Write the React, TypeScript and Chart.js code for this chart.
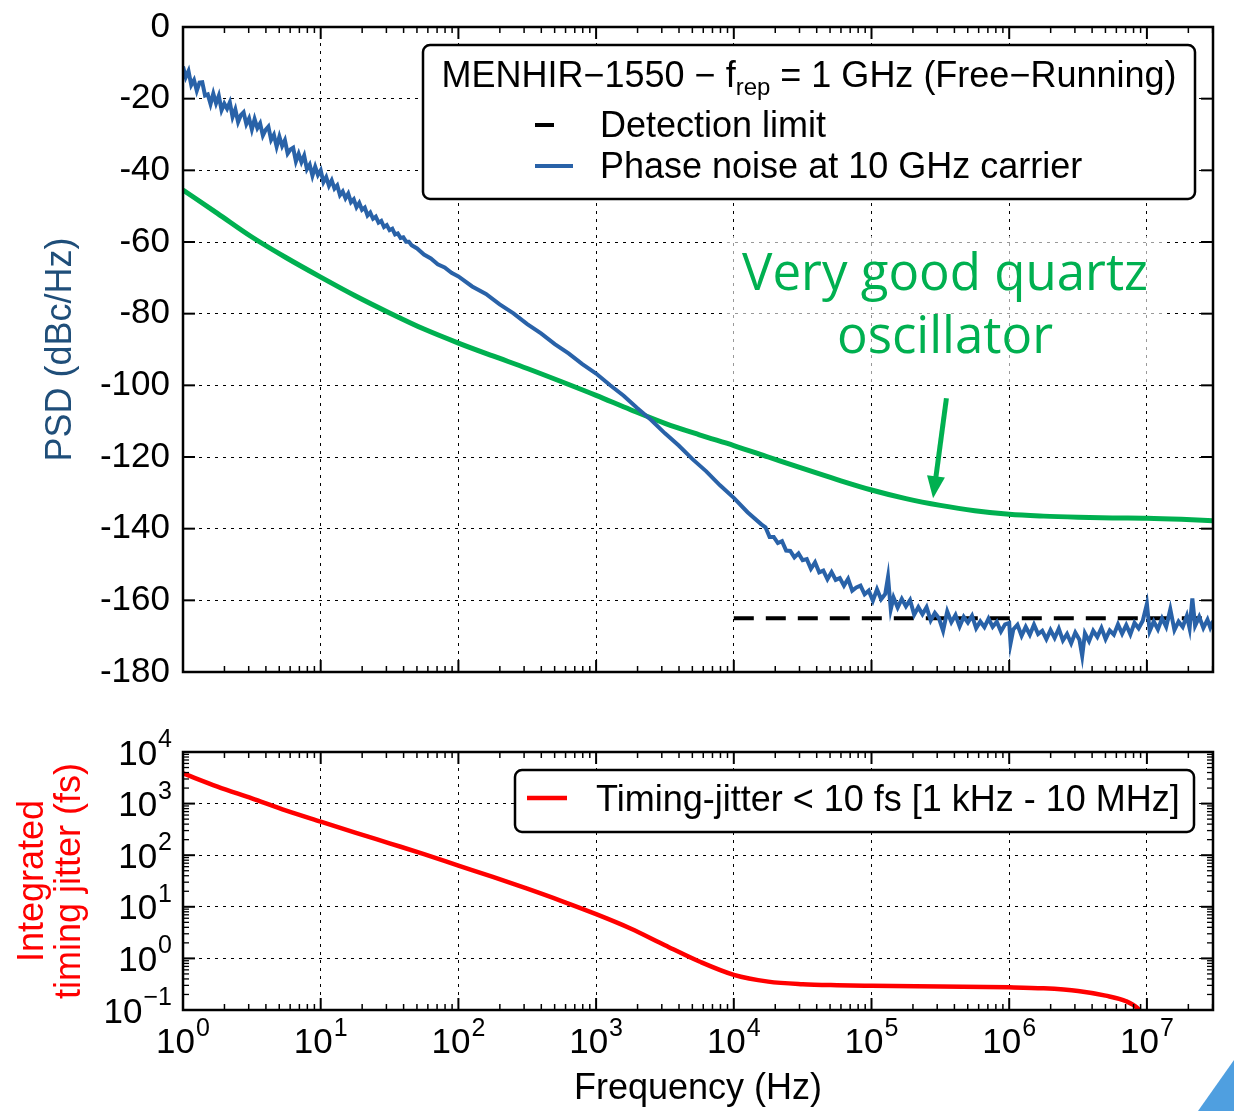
import React, { useEffect, useRef } from 'react';
import { Chart, registerables } from 'chart.js';

Chart.register(...registerables);

const FAMILY = '"Liberation Sans", Arial, Helvetica, sans-serif';
const fnt = (size: number) => `${size}px ${FAMILY}`;

// ---------------- data ----------------
// Phase noise at 10 GHz carrier: log10(frequency / Hz) and PSD (dBc/Hz)
const phaseNoiseLog10Hz = [
  0.00, 0.02, 0.04, 0.06, 0.08, 0.10, 0.12, 0.14, 0.16, 0.18, 0.20, 0.22, 0.24, 0.26, 0.28, 0.30,
  0.32, 0.34, 0.36, 0.38, 0.40, 0.42, 0.44, 0.46, 0.48, 0.50, 0.52, 0.54, 0.56, 0.58, 0.60, 0.62,
  0.64, 0.66, 0.68, 0.70, 0.72, 0.74, 0.76, 0.78, 0.80, 0.82, 0.84, 0.86, 0.88, 0.90, 0.92, 0.94,
  0.96, 0.98, 1.00, 1.02, 1.04, 1.06, 1.08, 1.10, 1.12, 1.14, 1.16, 1.18, 1.20, 1.22, 1.24, 1.26,
  1.28, 1.30, 1.32, 1.34, 1.36, 1.38, 1.40, 1.42, 1.44, 1.46, 1.48, 1.50, 1.52, 1.54, 1.56, 1.58,
  1.60, 1.62, 1.64, 1.66,
  1.70, 1.75, 1.80, 1.85, 1.90, 1.95, 2.00, 2.10, 2.20, 2.30, 2.40, 2.50, 2.60, 2.70, 2.80, 2.90,
  3.00, 3.10, 3.20, 3.30, 3.40, 3.50, 3.60, 3.70, 3.80, 3.90, 4.00, 4.10, 4.20,
  4.23, 4.26, 4.29, 4.32, 4.35, 4.38, 4.41, 4.44, 4.47, 4.50, 4.53, 4.56, 4.59, 4.62, 4.65, 4.68,
  4.71, 4.74, 4.77, 4.80, 4.83, 4.86, 4.89, 4.92, 4.95, 4.98, 5.01, 5.04, 5.07, 5.10, 5.12, 5.14,
  5.16, 5.19, 5.22, 5.25, 5.28, 5.31, 5.34, 5.37, 5.40, 5.43, 5.46, 5.49, 5.52, 5.55, 5.58, 5.61,
  5.64, 5.67, 5.70, 5.73, 5.76, 5.79, 5.82, 5.85, 5.88, 5.91, 5.94, 5.97, 6.00, 6.01, 6.03, 6.06,
  6.09, 6.12, 6.15, 6.18, 6.21, 6.24, 6.27, 6.30, 6.33, 6.36, 6.39, 6.42, 6.45, 6.48, 6.51, 6.53,
  6.55, 6.58, 6.61, 6.64, 6.67, 6.70, 6.73, 6.76, 6.79, 6.82, 6.85, 6.88, 6.91, 6.94, 6.97, 7.00,
  7.02, 7.05, 7.08, 7.11, 7.14, 7.17, 7.20, 7.23, 7.26, 7.29, 7.31, 7.33, 7.35, 7.38, 7.41, 7.44,
  7.46, 7.48,
];
const phaseNoiseDb = [
  -11.0, -14.0, -12.3, -16.2, -14.8, -17.8, -15.5, -15.4, -19.1, -18.8, -21.5, -18.6, -21.3, -19.2, -23.2, -21.4,
  -22.8, -21.0, -25.1, -23.0, -26.5, -24.6, -23.8, -27.1, -25.5, -28.6, -25.7, -28.2, -26.9, -30.3, -28.7, -27.8,
  -31.5, -30.1, -33.4, -30.6, -33.2, -31.6, -35.3, -34.2, -33.7, -37.5, -35.4, -37.7, -35.9, -39.7, -38.4, -41.5,
  -39.0, -41.3, -40.0, -43.3, -41.9, -44.3, -42.8, -45.1, -44.2, -46.9, -45.9, -47.8, -46.5, -48.9, -48.1, -50.3,
  -49.1, -51.0, -50.4, -52.6, -51.8, -53.5, -52.9, -54.6, -54.1, -55.8, -55.3, -56.7, -56.3, -57.9, -57.6, -58.9,
  -58.7, -59.9, -59.9, -60.9,
  -61.8, -63.5, -64.6, -66.2, -67.1, -68.6, -69.6, -72.4, -74.5, -77.4, -79.9, -82.9, -85.5, -88.5, -91.1, -94.1,
  -96.7, -99.9, -102.9, -106.4, -109.7, -113.4, -116.8, -120.6, -124.0, -127.9, -131.4, -135.4, -138.8,
  -139.6, -142.3, -142.3, -144.0, -143.5, -146.1, -146.2, -148.0, -146.9, -148.8, -148.5, -151.2, -149.4, -152.2, -151.7, -154.1,
  -152.1, -154.3, -153.8, -155.9, -154.0, -157.3, -156.4, -155.9, -158.3, -157.3, -160.1, -156.9, -159.7, -158.2, -153.5, -162.5,
  -159.2, -162.0, -159.6, -161.7, -159.9, -164.0, -161.9, -163.9, -161.9, -165.6, -163.5, -165.0, -168.5, -163.1, -166.1, -164.1,
  -167.3, -164.6, -166.2, -164.3, -167.8, -165.9, -167.5, -165.1, -167.4, -166.0, -168.7, -166.7, -166.3, -172.0, -168.1, -166.8,
  -169.9, -167.4, -169.6, -166.8, -169.4, -168.5, -170.8, -168.3, -170.5, -167.9, -171.2, -169.4, -172.0, -169.0, -171.0, -175.5,
  -169.2, -171.4, -168.5, -170.2, -167.7, -170.8, -168.4, -169.6, -166.7, -169.3, -166.9, -169.5, -166.3, -167.8, -165.7, -161.0,
  -168.6, -165.9, -168.1, -165.0, -167.4, -162.5, -168.3, -165.9, -167.4, -164.3, -167.8, -159.5, -167.1, -164.6, -167.7, -165.4,
  -167.6, -165.8,
];

// Very good quartz oscillator
const quartzLog10Hz = [0, 0.25, 0.5, 0.75, 1.0, 1.25, 1.5, 1.75, 2.0, 2.25, 2.5, 2.75, 3.0, 3.25, 3.5, 3.75,
  4.0, 4.25, 4.5, 4.75, 5.0, 5.25, 5.5, 5.75, 6.0, 6.25, 6.5, 6.75, 7.0, 7.25, 7.48];
const quartzDb = [-45.5, -52.0, -58.6, -64.4, -69.8, -75.0, -79.8, -84.3, -88.2, -91.8, -95.3, -99.0, -102.8,
  -106.8, -110.6, -113.8, -116.8, -120.0, -123.2, -126.3, -129.2, -131.6, -133.5, -135.0, -136.0, -136.5,
  -136.8, -137.0, -137.1, -137.4, -137.8];

// Detection limit
const detectionLimitHz = [1e4, 3.02e7];
const detectionLimitDb = [-165, -165];

// Integrated timing jitter (fs)
const jitterLog10Hz = [0, 0.25, 0.5, 0.75, 1.0, 1.25, 1.5, 1.75, 2.0, 2.25, 2.5, 2.75, 3.0, 3.25, 3.5, 3.75,
  4.0, 4.25, 4.5, 4.75, 5.0, 5.5, 6.0, 6.25, 6.5, 6.7, 6.85, 6.93, 6.97];
const jitterFs = [3860, 2140, 1260, 730, 447, 275, 170, 105, 63, 38, 22.4, 12.9, 7.2, 3.8, 1.8, 0.87,
  0.48, 0.355, 0.316, 0.302, 0.295, 0.285, 0.275, 0.263, 0.234, 0.19, 0.148, 0.11, 0.08];

// ticks
const freqDecadeTicks = [1, 10, 100, 1e3, 1e4, 1e5, 1e6, 1e7];
const freqDecadeExponents = ['0', '1', '2', '3', '4', '5', '6', '7'];
const psdTicks = [0, -20, -40, -60, -80, -100, -120, -140, -160, -180];
const jitterDecadeTicks = [0.1, 1, 10, 100, 1000, 10000];
const jitterDecadeExponents = ['\u22121', '0', '1', '2', '3', '4'];

const FREQ_MIN = 1;
const FREQ_MAX = 3.02e7;

// texts
const legendTitleMain = 'MENHIR\u22121550 \u2212 f';
const legendTitleSub = 'rep';
const legendTitleTail = ' = 1 GHz (Free\u2212Running)';
const detectionLabel = 'Detection limit';
const phaseNoiseLabel = 'Phase noise at 10 GHz carrier';
const jitterLabel = 'Timing-jitter < 10 fs [1 kHz - 10 MHz]';
const quartzNoteLines = ['Very good quartz', 'oscillator'];
const quartzArrowFrom = { x: 3.5e5, y: -103.6 };
const quartzArrowTo = { x: 2.8e5, y: -131.5 };

const BLUE = '#2962a8';
const GREEN = '#00b050';
const RED = '#ff0000';
const PSD_TITLE = '#1f4e79';

function minorValues(min: number, max: number) {
  const out: number[] = [];
  for (let k = -2; k <= 8; k++) {
    for (let m = 2; m <= 9; m++) {
      const v = m * Math.pow(10, k);
      if (v > min && v < max) out.push(v);
    }
  }
  return out;
}

function drawFrame(chart: any, yMajor: number[], yMinor: number[]) {
  const { ctx, chartArea: a, scales } = chart;
  const xs = scales.x;
  const ys = scales.y;
  ctx.save();
  ctx.strokeStyle = '#000';
  ctx.setLineDash([]);
  const seg = (x1: number, y1: number, x2: number, y2: number, w: number) => {
    ctx.lineWidth = w;
    ctx.beginPath();
    ctx.moveTo(x1, y1);
    ctx.lineTo(x2, y2);
    ctx.stroke();
  };
  for (const v of freqDecadeTicks) {
    const px = xs.getPixelForValue(v);
    seg(px, a.bottom, px, a.bottom - 12, 2);
    seg(px, a.top, px, a.top + 12, 2);
  }
  for (const v of minorValues(FREQ_MIN, FREQ_MAX)) {
    const px = xs.getPixelForValue(v);
    seg(px, a.bottom, px, a.bottom - 6, 1.5);
    seg(px, a.top, px, a.top + 6, 1.5);
  }
  for (const v of yMajor) {
    const py = ys.getPixelForValue(v);
    seg(a.left, py, a.left + 12, py, 2);
    seg(a.right, py, a.right - 12, py, 2);
  }
  for (const v of yMinor) {
    const py = ys.getPixelForValue(v);
    seg(a.left, py, a.left + 6, py, 1.3);
    seg(a.right, py, a.right - 6, py, 1.3);
  }
  ctx.lineWidth = 2.5;
  ctx.strokeRect(a.left, a.top, a.right - a.left, a.bottom - a.top);
  ctx.restore();
}

function legendBox(ctx: CanvasRenderingContext2D, x: number, y: number, w: number, h: number) {
  ctx.save();
  ctx.beginPath();
  (ctx as any).roundRect(x, y, w, h, 7);
  ctx.fillStyle = '#fff';
  ctx.fill();
  ctx.lineWidth = 2.5;
  ctx.strokeStyle = '#000';
  ctx.setLineDash([]);
  ctx.stroke();
  ctx.restore();
}

function handle(ctx: CanvasRenderingContext2D, x1: number, x2: number, y: number, color: string, w: number) {
  ctx.save();
  ctx.strokeStyle = color;
  ctx.lineWidth = w;
  ctx.setLineDash([]);
  ctx.beginPath();
  ctx.moveTo(x1, y);
  ctx.lineTo(x2, y);
  ctx.stroke();
  ctx.restore();
}

const topPlugin = {
  id: 'topDecor',
  beforeDatasetsDraw(chart: any) {
    const { ctx } = chart;
    ctx.save();
    ctx.fillStyle = 'rgba(255,255,255,0.6)';
    ctx.fillRect(724, 236, 442, 146);
    ctx.restore();
  },
  afterDatasetsDraw(chart: any) {
    const { ctx, scales } = chart;
    drawFrame(chart, psdTicks, []);

    // annotation text
    ctx.save();
    ctx.fillStyle = GREEN;
    ctx.font = '51px "Open Sans", "Noto Sans", sans-serif';
    ctx.textAlign = 'center';
    ctx.textBaseline = 'alphabetic';
    ctx.fillText(quartzNoteLines[0], 945, 290);
    ctx.fillText(quartzNoteLines[1], 945, 353);

    // arrow
    const fx = scales.x.getPixelForValue(quartzArrowFrom.x);
    const fy = scales.y.getPixelForValue(quartzArrowFrom.y);
    const tx = scales.x.getPixelForValue(quartzArrowTo.x);
    const ty = scales.y.getPixelForValue(quartzArrowTo.y);
    const len = Math.hypot(tx - fx, ty - fy);
    const dx = (tx - fx) / len;
    const dy = (ty - fy) / len;
    const headLen = 22;
    const half = 9;
    const bx = tx - dx * headLen;
    const by = ty - dy * headLen;
    ctx.strokeStyle = GREEN;
    ctx.lineWidth = 5;
    ctx.beginPath();
    ctx.moveTo(fx, fy);
    ctx.lineTo(bx + dx * 2, by + dy * 2);
    ctx.stroke();
    ctx.beginPath();
    ctx.moveTo(tx, ty);
    ctx.lineTo(bx - dy * half, by + dx * half);
    ctx.lineTo(bx + dy * half, by - dx * half);
    ctx.closePath();
    ctx.fill();
    ctx.restore();

    // legend
    legendBox(ctx, 423, 45, 772, 154);
    ctx.save();
    ctx.fillStyle = '#000';
    ctx.textBaseline = 'alphabetic';
    ctx.textAlign = 'left';
    ctx.font = fnt(36);
    const w1 = ctx.measureText(legendTitleMain).width;
    const w3 = ctx.measureText(legendTitleTail).width;
    ctx.font = fnt(24);
    const w2 = ctx.measureText(legendTitleSub).width;
    const start = 809 - (w1 + w2 + w3) / 2;
    ctx.font = fnt(36);
    ctx.fillText(legendTitleMain, start, 87);
    ctx.fillText(legendTitleTail, start + w1 + w2, 87);
    ctx.font = fnt(24);
    ctx.fillText(legendTitleSub, start + w1, 95);
    ctx.restore();
    handle(ctx, 535, 554, 125, '#000', 4);
    handle(ctx, 535, 573, 166, BLUE, 4);
    ctx.save();
    ctx.fillStyle = '#000';
    ctx.font = fnt(36);
    ctx.textAlign = 'left';
    ctx.textBaseline = 'alphabetic';
    ctx.fillText(detectionLabel, 600, 137);
    ctx.fillText(phaseNoiseLabel, 600, 178);
    ctx.restore();
  },
};

function drawPow10(ctx: CanvasRenderingContext2D, x: number, baseline: number, exp: string, align: 'center' | 'right') {
  ctx.font = fnt(35);
  const wb = ctx.measureText('10').width;
  ctx.font = fnt(25);
  const we = ctx.measureText(exp).width;
  const total = wb + we + 1;
  const start = align === 'center' ? x - total / 2 : x - total;
  ctx.textAlign = 'left';
  ctx.textBaseline = 'alphabetic';
  ctx.font = fnt(35);
  ctx.fillText('10', start, baseline);
  ctx.font = fnt(25);
  ctx.fillText(exp, start + wb + 1, baseline - 17.5);
}

const bottomPlugin = {
  id: 'bottomDecor',
  afterDatasetsDraw(chart: any) {
    const { ctx, scales, chartArea } = chart;
    drawFrame(chart, jitterDecadeTicks, minorValues(0.1, 1e4));
    ctx.save();
    ctx.fillStyle = '#000';
    freqDecadeTicks.forEach((v, i) => {
      const px = scales.x.getPixelForValue(v);
      drawPow10(ctx, px, chartArea.bottom + 43, freqDecadeExponents[i], 'center');
    });
    jitterDecadeTicks.forEach((v, i) => {
      const py = scales.y.getPixelForValue(v);
      drawPow10(ctx, 172, py + 12.5, jitterDecadeExponents[i], 'right');
    });
    ctx.restore();

    legendBox(ctx, 515, 70, 679, 62);
    handle(ctx, 527, 567, 98, RED, 4.5);
    ctx.save();
    ctx.fillStyle = '#000';
    ctx.font = fnt(36);
    ctx.textAlign = 'left';
    ctx.textBaseline = 'alphabetic';
    ctx.fillText(jitterLabel, 596, 111);
    ctx.restore();
  },
};

const gridCommon = { color: '#000', lineWidth: 1, drawTicks: false };
const borderCommon = { display: false, dash: [3, 5] };

const fitY = (s: any) => { s.width = 183; s.paddingTop = 0; s.paddingBottom = 0; };
const fitX = (h: number) => (s: any) => { s.height = h; s.paddingLeft = 0; s.paddingRight = 0; };

export default function App() {
  const topRef = useRef<HTMLCanvasElement>(null);
  const botRef = useRef<HTMLCanvasElement>(null);

  useEffect(() => {
    const top = new Chart(topRef.current as HTMLCanvasElement, {
      type: 'line',
      data: {
        datasets: [
          {
            label: phaseNoiseLabel,
            data: phaseNoiseLog10Hz.map((e, i) => ({ x: Math.pow(10, e), y: phaseNoiseDb[i] })),
            borderColor: BLUE,
            borderWidth: 4,
            pointRadius: 0,
            tension: 0,
          },
          {
            label: 'Very good quartz oscillator',
            data: quartzLog10Hz.map((e, i) => ({ x: Math.pow(10, e), y: quartzDb[i] })),
            borderColor: GREEN,
            borderWidth: 5,
            pointRadius: 0,
            cubicInterpolationMode: 'monotone',
          },
          {
            label: detectionLabel,
            data: detectionLimitHz.map((f, i) => ({ x: f, y: detectionLimitDb[i] })),
            borderColor: '#000',
            borderWidth: 4,
            borderDash: [20, 12],
            pointRadius: 0,
          },
        ],
      },
      options: {
        responsive: false,
        animation: false,
        layout: { padding: { top: 27, right: 21, left: 0, bottom: 0 } },
        plugins: { legend: { display: false }, tooltip: { enabled: false } },
        scales: {
          x: {
            type: 'logarithmic',
            min: FREQ_MIN,
            max: FREQ_MAX,
            afterBuildTicks: (s: any) => { s.ticks = freqDecadeTicks.map((v) => ({ value: v })); },
            afterFit: fitX(28),
            ticks: { display: false },
            grid: gridCommon,
            border: borderCommon,
          },
          y: {
            type: 'linear',
            min: -180,
            max: 0,
            afterBuildTicks: (s: any) => { s.ticks = psdTicks.map((v) => ({ value: v })); },
            afterFit: fitY,
            ticks: {
              color: '#000',
              padding: 13,
              font: { family: FAMILY, size: 35 },
              callback: (v: any) => String(v),
            },
            grid: gridCommon,
            border: borderCommon,
            title: {
              display: true,
              text: 'PSD (dBc/Hz)',
              color: PSD_TITLE,
              font: { family: FAMILY, size: 36 },
              padding: { top: 39, bottom: 0 },
            },
          },
        },
      } as any,
      plugins: [topPlugin],
    });

    const bottom = new Chart(botRef.current as HTMLCanvasElement, {
      type: 'line',
      data: {
        datasets: [
          {
            label: jitterLabel,
            data: jitterLog10Hz.map((e, i) => ({ x: Math.pow(10, e), y: jitterFs[i] })),
            borderColor: RED,
            borderWidth: 4.5,
            pointRadius: 0,
            cubicInterpolationMode: 'monotone',
          },
        ],
      },
      options: {
        responsive: false,
        animation: false,
        layout: { padding: { top: 52, right: 21, left: 0, bottom: 0 } },
        plugins: { legend: { display: false }, tooltip: { enabled: false } },
        scales: {
          x: {
            type: 'logarithmic',
            min: FREQ_MIN,
            max: FREQ_MAX,
            afterBuildTicks: (s: any) => { s.ticks = freqDecadeTicks.map((v) => ({ value: v })); },
            afterFit: fitX(101),
            ticks: { display: false },
            grid: gridCommon,
            border: borderCommon,
            title: {
              display: true,
              text: 'Frequency (Hz)',
              color: '#000',
              font: { family: FAMILY, size: 36 },
              padding: { top: 0, bottom: 0 },
            },
          },
          y: {
            type: 'logarithmic',
            min: 0.1,
            max: 1e4,
            afterBuildTicks: (s: any) => { s.ticks = jitterDecadeTicks.map((v) => ({ value: v })); },
            afterFit: fitY,
            ticks: { display: false },
            grid: gridCommon,
            border: borderCommon,
            title: {
              display: true,
              text: ['Integrated', 'timing jitter (fs)'],
              color: RED,
              font: { family: FAMILY, size: 36, lineHeight: 1.03 },
              padding: { top: 14.5, bottom: 0 },
            },
          },
        },
      } as any,
      plugins: [bottomPlugin],
    });

    return () => {
      top.destroy();
      bottom.destroy();
    };
  }, []);

  return (
    <div style={{ position: 'absolute', left: 0, top: 0, width: 1234, height: 1111, background: '#fff', overflow: 'hidden' }}>
      <canvas ref={topRef} width={1234} height={700} style={{ position: 'absolute', left: 0, top: 0, display: 'block' }} />
      <canvas ref={botRef} width={1234} height={411} style={{ position: 'absolute', left: 0, top: 700, display: 'block' }} />
      <div
        style={{
          position: 'absolute',
          left: 1198,
          top: 1060,
          width: 36,
          height: 51,
          background: '#4f9fe0',
          clipPath: 'polygon(100% 0, 100% 100%, 0 100%)',
        }}
      />
    </div>
  );
}
